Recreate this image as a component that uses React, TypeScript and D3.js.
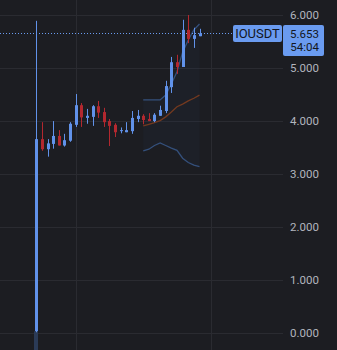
import React from "react";
import * as d3 from "d3";

const W = 337;
const H = 350;

const opens = [0.04, 3.66, 3.47, 3.57, 3.72, 3.54, 3.63, 3.93, 4.30, 4.06, 4.08, 4.28, 4.17, 4.00, 3.93, 3.81, 3.79, 3.81, 4.04, 4.10, 4.04, 4.00, 4.10, 4.19, 4.64, 5.11, 5.02, 5.72, 5.55, 5.60];
const highs = [5.89, 3.98, 3.66, 4.00, 3.83, 3.76, 3.98, 4.51, 4.34, 4.23, 4.30, 4.38, 4.25, 4.04, 3.96, 3.88, 3.98, 4.19, 4.21, 4.13, 4.15, 4.15, 4.29, 4.76, 5.21, 5.25, 5.91, 6.00, 5.76, 5.74];
const lows = [0.02, 3.44, 3.33, 3.48, 3.54, 3.52, 3.61, 3.89, 3.89, 3.95, 3.91, 4.06, 3.89, 3.53, 3.70, 3.77, 3.79, 3.76, 3.98, 3.94, 4.00, 3.98, 4.10, 4.15, 4.53, 4.89, 5.02, 5.47, 5.38, 5.60];
const closes = [3.66, 3.47, 3.58, 3.72, 3.54, 3.64, 3.95, 4.30, 4.07, 4.10, 4.28, 4.16, 3.98, 3.91, 3.79, 3.83, 3.83, 4.06, 4.10, 4.02, 4.00, 4.12, 4.21, 4.66, 5.11, 5.02, 5.72, 5.55, 5.62, 5.653];

const bbStart = 19;
const bbUpper = [4.40, 4.40, 4.40, 4.40, 4.49, 4.70, 4.93, 5.30, 5.53, 5.72, 5.83];
const bbMiddle = [3.91, 3.94, 3.97, 4.01, 4.08, 4.17, 4.27, 4.32, 4.38, 4.43, 4.49];
const bbLower = [3.44, 3.47, 3.54, 3.59, 3.54, 3.49, 3.45, 3.30, 3.22, 3.17, 3.14];

const yTicks = [0, 1, 2, 3, 4, 5, 6];
const xGridIdx = [7, 31];
const lastPrice = 5.653;
const symbol = "IOUSDT";
const countdown = "54:04";
const firstVolume = 0.35;

const BG = "#1c1d22";
const GRID = "#2a2b31";
const UP = "#6192ea";
const DOWN = "#b3282f";
const LABEL = "#b2b5be";
const TAG = "#6a9bf0";
const FONT = "Roboto, 'Noto Sans', sans-serif";

export default function App() {
  const plotRight = 283;
  const y = d3.scaleLinear().domain([0, 6]).range([333.3, 15]);
  const x = d3.scaleLinear().domain([0, 29]).range([36.3, 199.5]);
  const bw = 3;

  const bbIdx = bbUpper.map((_, i) => i + bbStart);
  const line = d3
    .line<number>()
    .x((_, i) => x(bbIdx[i]))
    .y((d) => y(d));
  const area = d3
    .area<number>()
    .x((_, i) => x(bbIdx[i]))
    .y0((_, i) => y(bbLower[i]))
    .y1((d) => y(d));

  const yp = Math.round(y(lastPrice)) + 0.5;

  return (
    <svg
      width={W}
      height={H}
      style={{ position: "absolute", left: 0, top: 0, background: BG, display: "block" }}
    >
      <rect x={0} y={0} width={W} height={H} fill={BG} />
      {yTicks.map((t) => (
        <line key={"g" + t} x1={0} x2={plotRight} y1={Math.round(y(t)) + 0.5} y2={Math.round(y(t)) + 0.5} stroke={GRID} strokeWidth={1} />
      ))}
      {xGridIdx.map((i) => (
        <line key={"v" + i} x1={Math.round(x(i)) + 0.5} x2={Math.round(x(i)) + 0.5} y1={0} y2={H} stroke={GRID} strokeWidth={1} />
      ))}
      {/* volume */}
      <rect x={x(0) - 2.3} y={y(0) - 2} width={4} height={H - y(0) + 2} fill="#2b3b57" />
      {/* bollinger */}
      <path d={area(bbUpper) || ""} fill="#2a3a5a" fillOpacity={0.12} />
      <path d={line(bbUpper) || ""} fill="none" stroke="#34507c" strokeWidth={1.3} />
      <path d={line(bbLower) || ""} fill="none" stroke="#34507c" strokeWidth={1.3} />
      <path d={line(bbMiddle) || ""} fill="none" stroke="#73391f" strokeWidth={1.3} />
      {/* last price dotted line */}
      <line x1={0} x2={233} y1={yp} y2={yp} stroke={TAG} strokeWidth={1} strokeDasharray="1,2" />
      {/* candles */}
      {opens.map((o, i) => {
        const c = closes[i];
        const col = c >= o ? UP : DOWN;
        const cx = Math.round(x(i)) + 0.5;
        const top = y(Math.max(o, c));
        const bot = y(Math.min(o, c));
        return (
          <g key={i}>
            <line x1={cx} x2={cx} y1={y(highs[i])} y2={y(lows[i])} stroke={col} strokeWidth={1} />
            <rect x={cx - bw / 2} y={top} width={bw} height={Math.max(1, bot - top)} fill={col} />
          </g>
        );
      })}
      {/* axis labels */}
      {yTicks.map((t) => (
        <text key={"t" + t} x={319} y={y(t)} dy="0.35em" textAnchor="end" fill={LABEL} fontFamily={FONT} fontSize={11.5}>
          {t.toFixed(3)}
        </text>
      ))}
      {/* tags */}
      <rect x={233} y={25} width={49} height={17} rx={2} fill={TAG} />
      <text x={257.5} y={33.5} dy="0.36em" textAnchor="middle" fill="#131722" fontFamily={FONT} fontSize={13}>
        {symbol}
      </text>
      <rect x={283} y={25} width={41} height={31} rx={2} fill={TAG} />
      <text x={319} y={33.5} dy="0.36em" textAnchor="end" fill="#131722" fontFamily={FONT} fontSize={11.5}>
        {lastPrice.toFixed(3)}
      </text>
      <text x={319} y={47} dy="0.36em" textAnchor="end" fill="#131722" fontFamily={FONT} fontSize={11.5}>
        {countdown}
      </text>
    </svg>
  );
}
